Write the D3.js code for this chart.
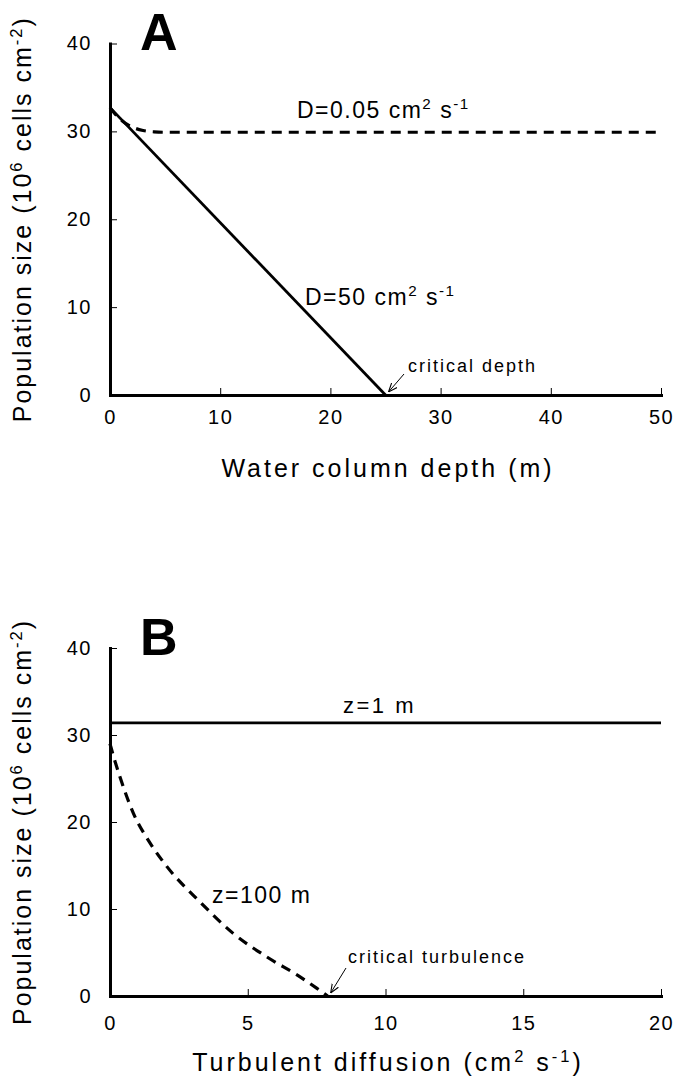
<!DOCTYPE html>
<html lang="en">
<head>
  <meta charset="UTF-8">
  <title>Population size vs depth and turbulence</title>
  <style>
    body { margin: 0; background: #fff; }
    text { font-family: "Liberation Sans", Arial, sans-serif; fill: #000; }
  </style>
</head>
<body>
<script src="https://cdn.jsdelivr.net/npm/d3@7"></script>
<script>
// panel A: population size vs water column depth
const depthD50 = [0, 25]
const popD50 = [32.7, 0]
const depthD005 = [0, 1, 2, 3, 4, 5, 10, 20, 30, 40, 50]
const popD005 = [32.7, 31.3, 30.5, 30.1, 29.95, 29.9, 29.9, 29.9, 29.9, 29.9, 29.9]
const xTicksA = [0, 10, 20, 30, 40, 50]

// panel B: population size vs turbulent diffusion
const diffZ1 = [0, 20]
const popZ1 = [31.4, 31.4]
const diffZ100 = [0, 0.06, 0.36, 0.85, 1.45, 2.06, 3.27, 4.47, 5.69, 6.9, 7.5, 7.9]
const popZ100 = [29.0, 28.3, 25.2, 21.0, 17.6, 14.9, 10.8, 7.2, 4.5, 2.2, 0.9, 0]
const xTicksB = [0, 5, 10, 15, 20]

const yTicks = [0, 10, 20, 30, 40]

const width = 676, height = 1089

const svg = d3.select("body").append("svg")
  .attr("width", width)
  .attr("height", height)

svg.append("defs").append("marker")
  .attr("id", "vhead")
  .attr("viewBox", "0 -5 10 10")
  .attr("refX", 10).attr("refY", 0)
  .attr("markerWidth", 9).attr("markerHeight", 9)
  .attr("markerUnits", "userSpaceOnUse")
  .attr("orient", "auto")
  .append("path")
  .attr("d", "M0,-4L10,0L0,4")
  .attr("fill", "none")
  .attr("stroke", "#000")
  .attr("stroke-width", 1.2)

// text with superscript pieces: parts = [[text, isSup], ...]
function richText(g, parts, size, spacing) {
  const t = g.append("text")
    .attr("font-size", size)
    .attr("letter-spacing", spacing)
  const shift = size * 0.38
  let up = false
  parts.forEach(p => {
    const s = t.append("tspan").text(p[0])
    if (p[1] && !up) { s.attr("dy", -shift).attr("font-size", size * 0.66); up = true }
    else if (p[1]) s.attr("font-size", size * 0.66)
    else if (up) { s.attr("dy", shift); up = false }
  })
  return t
}

function panel(o) {
  const x = d3.scaleLinear().domain(o.xDomain).range([110, 661])
  const y = d3.scaleLinear().domain([0, 40]).range([o.y0, o.y40])
  const g = svg.append("g")

  const yAxis = g.append("g")
    .attr("transform", "translate(110,0)")
    .call(d3.axisLeft(y).tickValues(yTicks).tickSize(-7).tickSizeOuter(0).tickPadding(18))
  const xAxis = g.append("g")
    .attr("transform", `translate(0,${o.y0})`)
    .call(d3.axisBottom(x).tickValues(o.xTicks).tickSize(-7).tickSizeOuter(0).tickPadding(o.xPad))

  ;[yAxis, xAxis].forEach(a => {
    a.select(".domain").attr("stroke-width", 3).attr("stroke-linecap", "square")
    a.selectAll(".tick line").attr("stroke-width", 1)
    a.selectAll(".tick text")
      .attr("font-size", 20)
      .attr("letter-spacing", 1.5)
      .attr("font-family", "Liberation Sans, Arial, sans-serif")
  })

  const line = d3.line().x(d => x(d[0])).y(d => y(d[1])).curve(d3.curveMonotoneX)

  o.series.forEach(s => {
    g.append("path")
      .datum(s.xs.map((v, i) => [v, s.ys[i]]))
      .attr("d", line)
      .attr("fill", "none")
      .attr("stroke", "#000")
      .attr("stroke-width", s.dashed ? 3.2 : 2.8)
      .attr("stroke-dasharray", s.dashed ? "10,7" : null)
  })

  // panel letter
  g.append("text")
    .attr("x", 140).attr("y", o.letterY)
    .attr("font-size", 52).attr("font-weight", "bold")
    .text(o.letter)

  // y axis title
  richText(g, [["Population size (10"], ["6", true], [" cells cm"], ["-2", true], [")"]], 25, 2)
    .attr("text-anchor", "middle")
    .attr("transform", `translate(31,${(o.y0 + o.y40) / 2}) rotate(-90)`)

  // x axis title
  richText(g, o.xTitle, 25, 3)
    .attr("text-anchor", "middle")
    .attr("x", 388).attr("y", o.titleY)

  // curve labels
  o.labels.forEach(l => {
    richText(g, l.parts, l.size, l.spacing).attr("x", l.x).attr("y", l.y)
  })

  // critical point annotation
  const c = o.critical
  g.append("text")
    .attr("x", c.tx).attr("y", c.ty)
    .attr("font-size", 18).attr("letter-spacing", 2)
    .text(c.text)
  g.append("line")
    .attr("x1", c.ax).attr("y1", c.ay)
    .attr("x2", x(c.at) + 3).attr("y2", o.y0 - 3)
    .attr("stroke", "#000").attr("stroke-width", 1)
    .attr("marker-end", "url(#vhead)")
}

panel({
  xDomain: [0, 50], xTicks: xTicksA, y0: 395, y40: 43.5, xPad: 15,
  letter: "A", letterY: 50,
  xTitle: [["Water column depth (m)"]], titleY: 477,
  series: [
    { xs: depthD50, ys: popD50, dashed: false },
    { xs: depthD005, ys: popD005, dashed: true }
  ],
  labels: [
    { parts: [["D=0.05 cm"], ["2", true], [" s"], ["-1", true]], x: 297, y: 118, size: 23, spacing: 1.5 },
    { parts: [["D=50 cm"], ["2", true], [" s"], ["-1", true]], x: 305, y: 305, size: 23, spacing: 1.5 }
  ],
  critical: { text: "critical depth", tx: 408, ty: 372, ax: 404, ay: 374, at: 25 }
})

panel({
  xDomain: [0, 20], xTicks: xTicksB, y0: 996, y40: 648, xPad: 20,
  letter: "B", letterY: 655,
  xTitle: [["Turbulent diffusion (cm"], ["2", true], [" s"], ["-1", true], [")"]], titleY: 1071,
  series: [
    { xs: diffZ1, ys: popZ1, dashed: false },
    { xs: diffZ100, ys: popZ100, dashed: true }
  ],
  labels: [
    { parts: [["z=1  m"]], x: 343, y: 713, size: 22, spacing: 2.5 },
    { parts: [["z=100 m"]], x: 212, y: 903, size: 23, spacing: 1.5 }
  ],
  critical: { text: "critical turbulence", tx: 348, ty: 963, ax: 346, ay: 968, at: 7.9 }
})
</script>
</body>
</html>
